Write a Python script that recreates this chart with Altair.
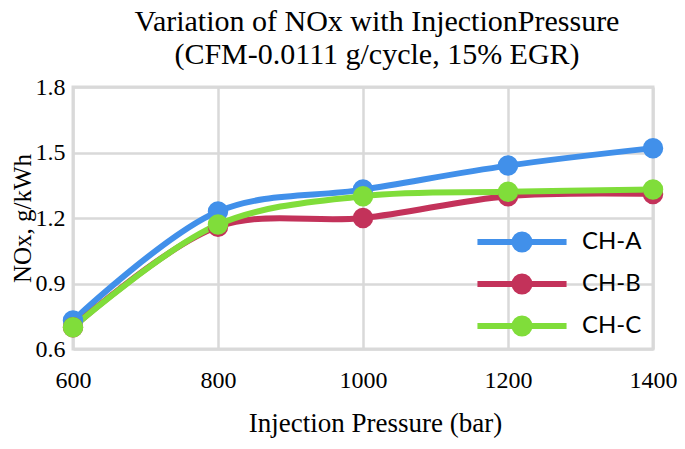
import altair as alt
import pandas as pd

pressure = [600, 800, 1000, 1200, 1400]
ch_a = [0.73, 1.23, 1.33, 1.44, 1.52]
ch_b = [0.70, 1.16, 1.20, 1.30, 1.31]
ch_c = [0.70, 1.17, 1.30, 1.32, 1.33]
series = ["CH-A", "CH-B", "CH-C"]
colors = ["#4190ea", "#c3325a", "#80dd3a"]

rows = []
for name, vals in zip(series, [ch_a, ch_b, ch_c]):
    for p, v in zip(pressure, vals):
        rows.append({"Pressure": p, "NOx": v, "Series": name})
df = pd.DataFrame(rows)

SERIF = "Liberation Serif"


def ring(r):
    return f"M{-r},0A{r},{r} 0 1,0 {r},0A{r},{r} 0 1,0 {-r},0"


# line segment plus concentric rings that together look like a filled dot
legend_symbol = "M-2.97,0H2.97 " + " ".join(ring(r) for r in (0.1, 0.3, 0.5))

x = alt.X("Pressure:Q",
          scale=alt.Scale(domain=[600, 1400], nice=False),
          axis=alt.Axis(values=pressure, format="d", title="Injection Pressure (bar)",
                        labelFont=SERIF, labelFontSize=24, labelColor="#000",
                        labelFlush=False, titleX=302,
                        titleFont=SERIF, titleFontSize=27, titleFontWeight="normal",
                        titleColor="#000", labelPadding=19, titlePadding=18,
                        ticks=False, domain=False, gridColor="#d9d9d9", gridWidth=2.5))
y = alt.Y("NOx:Q",
          scale=alt.Scale(domain=[0.6, 1.8], nice=False),
          axis=alt.Axis(values=[0.6, 0.9, 1.2, 1.5, 1.8], format=".1f",
                        title="NOx, g/kWh",
                        labelFont=SERIF, labelFontSize=24, labelColor="#000",
                        titleFont=SERIF, titleFontSize=25, titleFontWeight="normal",
                        titleColor="#000", labelPadding=8, titlePadding=0,
                        ticks=False, domain=False, gridColor="#d9d9d9", gridWidth=2.5))

color = alt.Color("Series:N", scale=alt.Scale(domain=series, range=colors),
                  legend=alt.Legend(
                      title=None, orient="none", legendX=431, legendY=137,
                      padding=0, symbolType=legend_symbol, symbolSize=900,
                      symbolStrokeWidth=6, symbolFillColor="transparent",
                      labelFont="Lato", labelFontSize=24, labelColor="#000",
                      rowPadding=2, labelOffset=42))

lines = alt.Chart(df).mark_line(interpolate="catmull-rom", strokeWidth=6).encode(
    x=x, y=y, color=color, order=alt.Order("Pressure:Q"))
points = alt.Chart(df).mark_circle(size=420, opacity=1).encode(
    x=x, y=y, color=color)

chart = alt.layer(lines, points).properties(
    width=580, height=262,
    autosize=alt.AutoSizeParams(type="none"),
    padding={"left": 65, "top": 79, "right": 24, "bottom": 92},
    title=alt.Title(["Variation of NOx with InjectionPressure",
                     "(CFM-0.0111 g/cycle, 15% EGR)"],
                    font=SERIF, fontSize=30, fontWeight="normal", color="#000",
                    lineHeight=33, offset=5, dx=14),
).configure_view(stroke="#d9d9d9", strokeWidth=3)

chart.save("out.html", embed_options={"renderer": "svg", "actions": False})
